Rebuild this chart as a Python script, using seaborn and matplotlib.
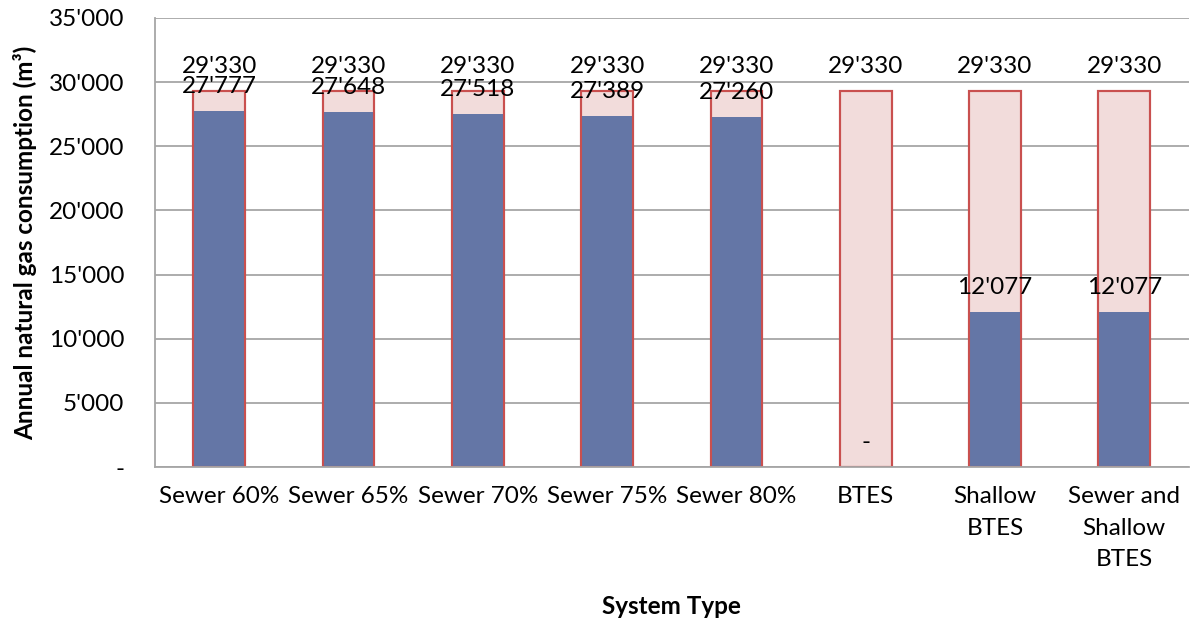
import matplotlib
matplotlib.use("Agg")
import matplotlib.pyplot as plt
import seaborn as sns
import pandas as pd
from matplotlib.ticker import FuncFormatter, FixedLocator

categories = ["Sewer 60%", "Sewer 65%", "Sewer 70%", "Sewer 75%", "Sewer 80%",
              "BTES", "Shallow\nBTES", "Sewer and\nShallow\nBTES"]
baseline = [29330, 29330, 29330, 29330, 29330, 29330, 29330, 29330]
with_system = [27777, 27648, 27518, 27389, 27260, 0, 12077, 12077]
y_ticks = [0, 5000, 10000, 15000, 20000, 25000, 30000, 35000]

sns.set_theme(style="white")
plt.rcParams['font.family'] = ['Lato', 'DejaVu Sans']
plt.rcParams['text.color'] = 'black'

FS = 17.5
def fmt(v, pos=None):
    if v == 0:
        return "-"
    return f"{int(round(v)):,}".replace(",", "'")

df = pd.DataFrame({"cat": categories, "base": baseline, "sys": with_system})

fig = plt.figure(figsize=(11.90, 6.24), dpi=100)
ax = fig.add_axes([0.130, 0.2516, 0.869, 0.7196])

pink = "#F2DCDB"
red = "#C9504F"
blue = "#6476A6"
grid = "#A6A6A6"

sns.barplot(data=df, x="cat", y="base", ax=ax, color=pink, width=0.4,
            saturation=1, edgecolor=red, linewidth=1.5, zorder=2)
sns.barplot(data=df, x="cat", y="sys", ax=ax, color=blue, width=0.4,
            saturation=1, linewidth=0, zorder=3)
# outline on top
sns.barplot(data=df, x="cat", y="base", ax=ax, fill=False, width=0.4,
            edgecolor=red, linewidth=1.5, zorder=4)

ax.set_xlim(-0.5, len(categories) - 0.5)
ax.set_ylim(0, 35000)
ax.yaxis.set_major_locator(FixedLocator(y_ticks))
ax.yaxis.set_major_formatter(FuncFormatter(fmt))
ax.yaxis.grid(True, color=grid, linewidth=1.3, zorder=0)
ax.set_axisbelow(True)

for spine in ["top", "right"]:
    ax.spines[spine].set_visible(False)
for spine in ["left", "bottom"]:
    ax.spines[spine].set_color(grid)
    ax.spines[spine].set_linewidth(1.3)
    ax.spines[spine].set_zorder(5)

ax.set_xticks(range(len(categories)))
ax.set_xticklabels(categories, fontsize=FS, linespacing=1.6, va="top")
ax.set_xticks([i + 0.5 for i in range(-1, len(categories))], minor=True)
ax.tick_params(axis="x", which="major", length=0, pad=14, labelcolor="black")
ax.tick_params(axis="x", which="minor", length=7, width=1.3, color=grid, direction="out")
ax.tick_params(axis="y", which="major", length=7, width=1.3, color=grid, direction="out",
               labelsize=FS, pad=15, labelcolor="black")

ax.set_xlabel("System Type", fontsize=FS, fontweight="bold", labelpad=18, color="black")
ax.set_ylabel("Annual natural gas consumption (m³)", fontsize=FS, fontweight="bold",
              labelpad=8, color="black")

off = 17.5
for i, (b, s) in enumerate(zip(baseline, with_system)):
    ax.annotate(fmt(b), (i, b), xytext=(0, off), textcoords="offset points",
                ha="center", va="center", fontsize=FS, color="black", zorder=6)
    ax.annotate(fmt(s), (i, s), xytext=(0, off), textcoords="offset points",
                ha="center", va="center", fontsize=FS, color="black", zorder=6)

fig.savefig("out.png", dpi=100)
